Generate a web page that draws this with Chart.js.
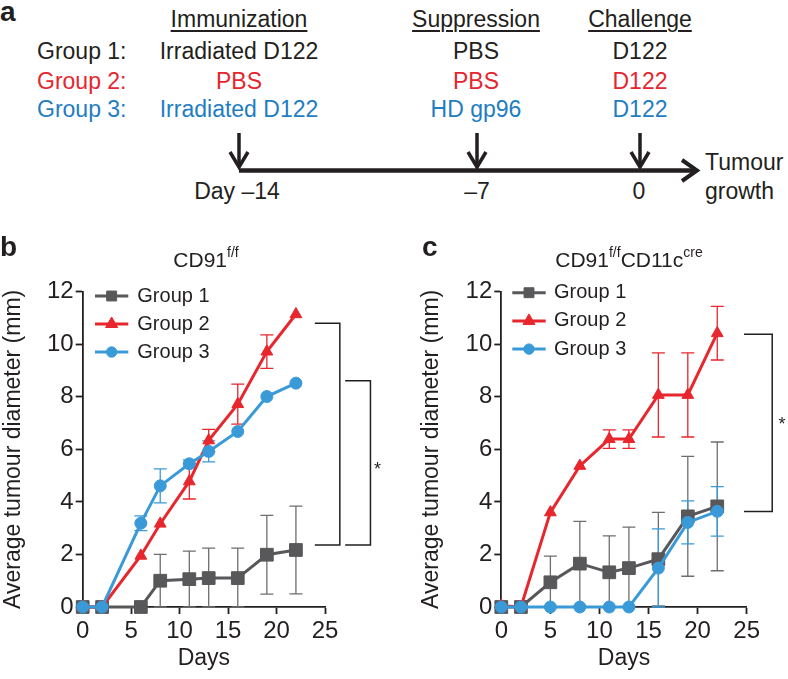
<!DOCTYPE html>
<html>
<head>
<meta charset="utf-8">
<script src="https://cdn.jsdelivr.net/npm/chart.js@4.4.1/dist/chart.umd.min.js"></script>
<style>
  body { margin: 0; background: #fff; }
  #fig { position: relative; width: 788px; height: 679px; overflow: hidden; font-family: "Liberation Sans", Arial, sans-serif; color: #231f20; }
  .t { position: absolute; line-height: 1; white-space: nowrap; }
  canvas { position: absolute; }
</style>
</head>
<body>
<div id="fig">
  <svg width="788" height="220" style="position:absolute;left:0;top:0">
    <g stroke="#231f20" fill="none">
      <line x1="239" y1="170.5" x2="695" y2="170.5" stroke-width="4.5"/>
      <polyline points="682,160 697,170.5 682,181" stroke-width="4"/>
      <line x1="239" y1="133" x2="239" y2="166" stroke-width="3.5"/>
      <polyline points="230,152 239,167 248,152" stroke-width="3.5"/>
      <line x1="477" y1="133" x2="477" y2="166" stroke-width="3.5"/>
      <polyline points="468,152 477,167 486,152" stroke-width="3.5"/>
      <line x1="640" y1="133" x2="640" y2="166" stroke-width="3.5"/>
      <polyline points="631,152 640,167 649,152" stroke-width="3.5"/>
    </g>
  </svg>
  <canvas id="chartB" width="394" height="429" style="left:0;top:250px"></canvas>
  <canvas id="chartC" width="394" height="429" style="left:394px;top:250px"></canvas>
</div>
<script>
// panel b: CD91 f/f
const daysB = [0, 2, 6, 8, 11, 13, 16, 19, 22];
const group1B = [0, 0, 0, 1.0, 1.06, 1.1, 1.1, 1.99, 2.17];
const group2B = [0, 0, 1.95, 3.17, 4.78, 6.34, 7.72, 9.72, 11.14];
const group3B = [0, 0, 3.19, 4.61, 5.45, 5.92, 6.68, 8.01, 8.52];
const group1ErrB = [0, 0, 0, 1.0, 1.07, 1.14, 1.14, 1.5, 1.67];
const group2ErrB = [0, 0, 0, 0, 0.67, 0.42, 0.76, 0.64, 0];
const group3ErrB = [0, 0, 0.28, 0.65, 0.15, 0.4, 0, 0, 0];

// panel c: CD91 f/f CD11c cre
const daysC = [0, 2, 5, 8, 11, 13, 16, 19, 22];
const group1C = [0, 0, 0.94, 1.65, 1.32, 1.48, 1.82, 3.45, 3.83];
const group2C = [0.05, 0, 3.6, 5.37, 6.39, 6.39, 8.07, 8.07, 10.42];
const group3C = [0, 0, 0, 0, 0, 0, 1.48, 3.22, 3.64];
const group1ErrC = [0, 0, 1.0, 1.61, 1.39, 1.56, 1.78, 2.28, 2.45];
const group2ErrC = [0, 0, 0, 0, 0.35, 0.35, 1.6, 1.6, 1.02];
const group3ErrC = [0, 0, 0, 0, 0, 0, 1.49, 0.82, 0.94];

const seriesNames = ["Group 1", "Group 2", "Group 3"];
const seriesColors = ["#58585a", "#e8262d", "#3a9ad8"];
const errorColors = ["#6e6e70", "#e8262d", "#3a9ad8"];
const seriesStyles = ["rect", "triangle", "circle"];
const seriesRadius = [9, 6.8, 6];
const legendRadius = [7, 7, 5.2];

// significance brackets: [xFrom, xTo, yTop, yBottom] in data units
const bracketsB = [[23.95, 26.53, 10.8, 2.36], [27.08, 29.69, 8.61, 2.36]];
const starB = [30.41, 5.34];
const bracketsC = [[24.72, 27.6, 10.38, 3.63]];
const starC = [28.6, 7.05];

const ink = "#231f20";
Chart.defaults.font.family = "'Liberation Sans', Arial, sans-serif";
Chart.defaults.color = ink;

// ---- panel a and titles as html text ----
const fig = document.getElementById("fig");
function addText(html, x, baseline, opt) {
  const o = Object.assign({ size: 23, color: ink, align: "left", weight: "normal" }, opt || {});
  const d = document.createElement("div");
  d.className = "t";
  d.innerHTML = html;
  d.style.fontSize = o.size + "px";
  d.style.fontWeight = o.weight;
  d.style.color = o.color;
  d.style.left = x + "px";
  d.style.top = (baseline - 0.8465 * o.size) + "px";
  if (o.align === "center") d.style.transform = "translateX(-50%)";
  if (o.underline) {
    d.style.textDecoration = "underline";
    d.style.textDecorationThickness = "1.5px";
    d.style.textUnderlineOffset = "3px";
  }
  fig.appendChild(d);
}

const red = "#e5262f";
const blue = "#1f7dc2";
addText("a", 0, 22, { size: 28, weight: "bold" });
addText("Immunization", 239, 27.5, { align: "center", underline: true });
addText("Suppression", 476, 27.5, { align: "center", underline: true });
addText("Challenge", 640, 27.5, { align: "center", underline: true });

addText("Group 1:", 37, 59);
addText("Group 2:", 37, 89, { color: red });
addText("Group 3:", 37, 117, { color: blue });

addText("Irradiated D122", 239, 59, { align: "center" });
addText("PBS", 239, 89, { align: "center", color: red });
addText("Irradiated D122", 239, 117, { align: "center", color: blue });

addText("PBS", 476, 59, { align: "center" });
addText("PBS", 476, 89, { align: "center", color: red });
addText("HD gp96", 476, 117, { align: "center", color: blue });

addText("D122", 640, 59, { align: "center" });
addText("D122", 640, 89, { align: "center", color: red });
addText("D122", 640, 117, { align: "center", color: blue });

addText("Day \u201314", 237, 199.5, { align: "center" });
addText("\u20137", 477, 199.5, { align: "center" });
addText("0", 639, 199.5, { align: "center" });
addText("Tumour", 705, 170);
addText("growth", 705, 199);

const sup = (s) => '<span style="font-size:14px;position:relative;top:-10px">' + s + "</span>";
addText("b", 0, 256.7, { size: 28, weight: "bold" });
addText("c", 422, 256.7, { size: 28, weight: "bold" });
addText("CD91" + sup("f/f"), 206, 266.7, { size: 21, align: "center" });
addText("CD91" + sup("f/f") + "CD11c" + sup("cre"), 629, 266.7, { size: 21, align: "center" });

// ---- chart plugins ----
const errorBars = {
  id: "errorBars",
  beforeDatasetsDraw(chart) {
    const { ctx, scales } = chart;
    ctx.save();
    ctx.lineWidth = 1.3;
    chart.data.datasets.forEach((ds, k) => {
      ctx.strokeStyle = errorColors[k];
      ds.data.forEach((pt, i) => {
        const e = ds.errors[i];
        if (!e) return;
        const px = scales.x.getPixelForValue(pt.x);
        const top = scales.y.getPixelForValue(pt.y + e);
        const bot = scales.y.getPixelForValue(Math.max(pt.y - e, 0));
        ctx.beginPath();
        ctx.moveTo(px, top);
        ctx.lineTo(px, bot);
        ctx.moveTo(px - 6.5, top);
        ctx.lineTo(px + 6.5, top);
        ctx.moveTo(px - 6.5, bot);
        ctx.lineTo(px + 6.5, bot);
        ctx.stroke();
      });
    });
    ctx.restore();
  },
};

const groupLegend = {
  id: "groupLegend",
  afterDraw(chart, args, opts) {
    const { ctx, chartArea } = chart;
    ctx.save();
    chart.data.datasets.forEach((ds, i) => {
      const yy = chartArea.top + opts.top + i * opts.rowGap;
      const x0 = chartArea.left + opts.left;
      ctx.strokeStyle = ds.borderColor;
      ctx.fillStyle = ds.borderColor;
      ctx.lineWidth = 3;
      ctx.beginPath();
      ctx.moveTo(x0, yy);
      ctx.lineTo(x0 + opts.lineLen, yy);
      ctx.stroke();
      ctx.lineWidth = 1;
      Chart.helpers.drawPoint(ctx, { pointStyle: ds.pointStyle, radius: legendRadius[i], rotation: 0, borderWidth: 1 }, x0 + opts.lineLen / 2, yy);
      ctx.fillStyle = ink;
      ctx.font = "20px 'Liberation Sans', Arial, sans-serif";
      ctx.textBaseline = "middle";
      ctx.textAlign = "left";
      ctx.fillText(ds.label, x0 + opts.textGap, yy);
    });
    ctx.restore();
  },
};

const sigBrackets = {
  id: "sigBrackets",
  afterDraw(chart, args, opts) {
    const { ctx, scales } = chart;
    ctx.save();
    ctx.strokeStyle = ink;
    ctx.lineWidth = 1.5;
    opts.brackets.forEach(([x1, x2, yt, yb]) => {
      const a = scales.x.getPixelForValue(x1);
      const b = scales.x.getPixelForValue(x2);
      const t = scales.y.getPixelForValue(yt);
      const u = scales.y.getPixelForValue(yb);
      ctx.beginPath();
      ctx.moveTo(a, t);
      ctx.lineTo(b, t);
      ctx.lineTo(b, u);
      ctx.lineTo(a, u);
      ctx.stroke();
    });
    ctx.fillStyle = ink;
    ctx.font = "18px 'Liberation Sans', Arial, sans-serif";
    ctx.textAlign = "center";
    ctx.textBaseline = "middle";
    ctx.fillText("*", scales.x.getPixelForValue(opts.star[0]), scales.y.getPixelForValue(opts.star[1]) + 3);
    ctx.restore();
  },
};

function makeChart(canvasId, days, values, errors, brackets, star, layout) {
  const datasets = values.map((vals, i) => ({
    label: seriesNames[i],
    data: days.map((d, j) => ({ x: d, y: vals[j] })),
    errors: errors[i],
    borderColor: seriesColors[i],
    backgroundColor: seriesColors[i],
    pointBackgroundColor: seriesColors[i],
    pointBorderColor: seriesColors[i],
    pointBorderWidth: 1,
    pointStyle: seriesStyles[i],
    pointRadius: seriesRadius[i],
    borderWidth: 3,
    tension: 0,
    clip: false,
    order: 2 - i,
  }));

  const ctx = document.getElementById(canvasId).getContext("2d");
  return new Chart(ctx, {
    type: "line",
    data: { datasets: datasets },
    plugins: [errorBars, groupLegend, sigBrackets],
    options: {
      responsive: false,
      animation: false,
      layout: { padding: layout.padding },
      plugins: {
        legend: { display: false },
        tooltip: { enabled: false },
        groupLegend: layout.legend,
        sigBrackets: { brackets: brackets, star: star },
      },
      scales: {
        x: {
          type: "linear",
          min: 0,
          max: 25,
          ticks: { stepSize: 5, font: { size: 24 }, color: ink, padding: 3, maxRotation: 0 },
          grid: { drawOnChartArea: false, tickLength: 7, tickWidth: 1.8, tickColor: ink },
          border: { color: ink, width: 1.8 },
          title: { display: true, text: "Days", font: { size: 23 }, color: ink, padding: { top: 0, bottom: 7 } },
          afterFit: (s) => { s.height = 72; },
        },
        y: {
          min: 0,
          max: 12,
          ticks: { stepSize: 2, font: { size: 24 }, color: ink, padding: 2 },
          grid: { drawOnChartArea: false, tickLength: 7, tickWidth: 1.8, tickColor: ink },
          border: { color: ink, width: 1.8 },
          title: { display: true, text: "Average tumour diameter (mm)", font: { size: 23 }, color: ink, padding: { top: 0, bottom: 0 } },
          afterFit: (s) => { s.width = layout.yWidth; },
        },
      },
    },
  });
}

makeChart(
  "chartB",
  daysB,
  [group1B, group2B, group3B],
  [group1ErrB, group2ErrB, group3ErrB],
  bracketsB,
  starB,
  {
    padding: { top: 41.7, right: 69, bottom: 0, left: 0 },
    yWidth: 82.7,
    legend: { left: 12.3, lineLen: 33.3, textGap: 42.3, top: 4.3, rowGap: 28 },
  }
);

makeChart(
  "chartC",
  daysC,
  [group1C, group2C, group3C],
  [group1ErrC, group2ErrC, group3ErrC],
  bracketsC,
  starC,
  {
    padding: { top: 41.7, right: 41.3, bottom: 0, left: 24 },
    yWidth: 83.3,
    legend: { left: 11, lineLen: 33.4, textGap: 41.7, top: 1, rowGap: 28.2 },
  }
);
</script>
</body>
</html>
